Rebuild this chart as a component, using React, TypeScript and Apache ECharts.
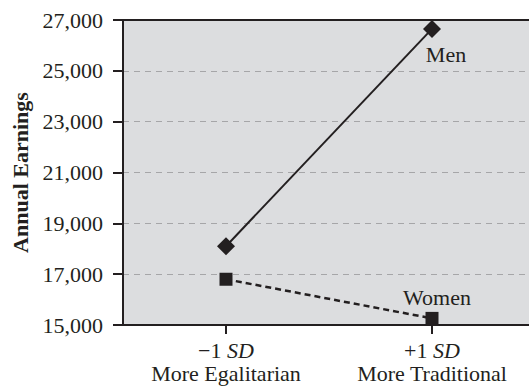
import React, { useEffect, useRef } from "react";
import * as echarts from "echarts";

const categories = ["−1", "+1"];
const categorySubtitles = ["More Egalitarian", "More Traditional"];
const menValues = [18100, 26650];
const womenValues = [16800, 15260];
const yTicks = { min: 15000, max: 27000, interval: 2000 };

const INK = "#231f20";
const FONT = "'Liberation Serif', 'DejaVu Serif', serif";

export default function App() {
  const ref = useRef<HTMLDivElement>(null);
  useEffect(() => {
    if (!ref.current) return;
    const chart = echarts.init(ref.current, undefined, { renderer: "svg" });
    chart.setOption({
      animation: false,
      textStyle: { fontFamily: FONT, color: INK },
      grid: {
        left: 123,
        top: 20,
        width: 412,
        height: 305,
        show: true,
        backgroundColor: "#dcdddf",
        borderWidth: 0,
        containLabel: false,
      },
      xAxis: [
        {
          type: "category",
          data: categories,
          boundaryGap: true,
          axisLine: { show: true, lineStyle: { color: INK, width: 2 } },
          axisTick: { show: true, alignWithLabel: true, inside: false, length: 9, lineStyle: { color: INK, width: 2 } },
          axisLabel: {
            margin: 14,
            interval: 0,
            formatter: (v: string, i: number) => `${v} {i|SD}\n${categorySubtitles[i]}`,
            fontFamily: FONT,
            fontSize: 22,
            lineHeight: 23,
            color: INK,
            rich: {
              i: { fontStyle: "italic", fontFamily: FONT, fontSize: 22, lineHeight: 23, color: INK },
            },
          },
          splitLine: { show: false },
        },
        {
          type: "category",
          position: "top",
          data: categories,
          axisLine: { show: true, lineStyle: { color: INK, width: 2 } },
          axisTick: { show: false },
          axisLabel: { show: false },
          splitLine: { show: false },
        },
      ],
      yAxis: {
        type: "value",
        min: yTicks.min,
        max: yTicks.max,
        interval: yTicks.interval,
        name: "Annual Earnings",
        nameLocation: "middle",
        nameGap: 92,
        nameTextStyle: { fontFamily: FONT, fontSize: 22, fontWeight: "bold", color: INK },
        axisLine: { show: true, lineStyle: { color: INK, width: 2 } },
        axisTick: { show: true, inside: false, length: 10, lineStyle: { color: INK, width: 2 } },
        axisLabel: {
          margin: 20,
          fontFamily: FONT,
          fontSize: 22,
          color: INK,
          formatter: (v: number) => v.toLocaleString("en-US"),
        },
        splitLine: { show: true, lineStyle: { color: "#a6a6a8", width: 1, type: [6, 5] } },
      },
      series: [
        {
          name: "Men",
          type: "line",
          xAxisIndex: 0,
          data: menValues,
          symbol: "diamond",
          symbolSize: 18,
          itemStyle: { color: INK },
          lineStyle: { color: INK, width: 2, type: "solid" },
          label: {
            show: true,
            position: "inside",
            offset: [14, 26],
            formatter: (p: any) => (p.dataIndex === 1 ? "Men" : ""),
            fontFamily: FONT,
            fontSize: 22,
            color: INK,
          },
          z: 3,
        },
        {
          name: "Women",
          type: "line",
          xAxisIndex: 0,
          data: womenValues,
          symbol: "rect",
          symbolSize: 13,
          itemStyle: { color: INK },
          lineStyle: { color: INK, width: 2.5, type: [6, 4] },
          label: {
            show: true,
            position: "inside",
            offset: [5, -21],
            formatter: (p: any) => (p.dataIndex === 1 ? "Women" : ""),
            fontFamily: FONT,
            fontSize: 22,
            color: INK,
          },
          z: 3,
        },
      ],
    });
    return () => chart.dispose();
  }, []);
  return (
    <div
      style={{ position: "fixed", left: 0, top: 0, width: 529, height: 386, overflow: "hidden", background: "#fff" }}
    >
      <div ref={ref} style={{ width: 545, height: 386 }} />
    </div>
  );
}
